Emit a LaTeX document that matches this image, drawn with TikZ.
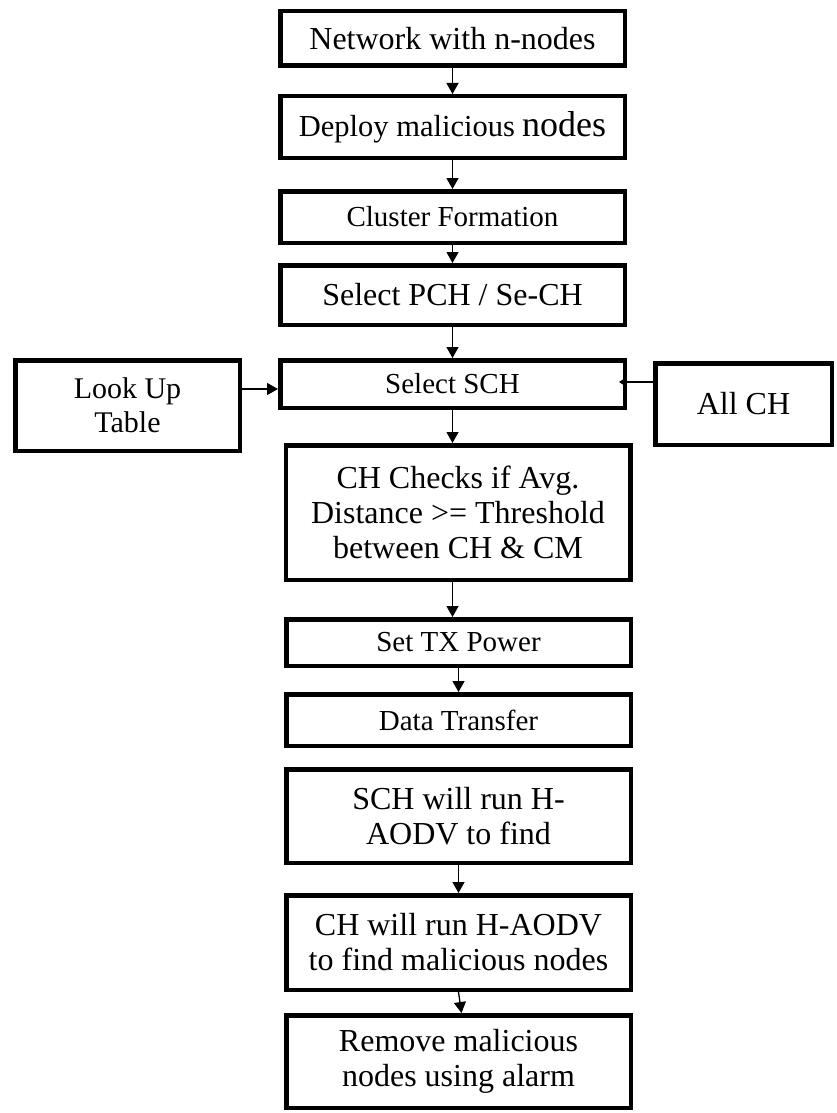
\documentclass[tikz,border=0pt]{standalone}
\usepackage{fontspec}
\setmainfont{Liberation Serif}
\usetikzlibrary{arrows.meta, positioning}

\begin{document}
\begin{tikzpicture}[x=1pt,y=1pt,>={Triangle[length=11pt,width=12pt]},
        every node/.style={font=\fontsize{29}{33}\selectfont},
        stage/.style={draw, line width=4.5pt, outer sep=2.25pt, minimum width=344.5pt, align=center, inner sep=2pt},
        big/.style={font=\fontsize{32}{35}\selectfont},
        flow/.style={line width=1.3pt}]
        % \draw[help lines] (0,0) grid (836,-1113);
      \useasboundingbox (0,0) rectangle (836,-1113);

      \node[stage, big, minimum height=54.5pt]  (net) at (452.5,-38.5) {Network with n-nodes};
      \node[stage, minimum height=61.5pt]        (deploy) [below=26pt of net] {{\fontsize{30.5}{34}\selectfont Deploy malicious} {\fontsize{36}{40}\selectfont nodes}};
      \node[stage, minimum height=51.5pt]        (cluster) [below=29pt of deploy] {Cluster Formation};
      \node[stage, big, minimum height=59.5pt]   (pch) [below=18pt of cluster] {Select PCH / Se-CH};
      \node[stage, minimum height=47.5pt]        (sch) [below=31pt of pch] {Select SCH};
      \node[stage, big, minimum height=134.5pt]  (check) [below=33pt of sch, xshift=5.5pt] {CH Checks if Avg.\\ Distance >= Threshold\\ between CH \& CM};
      \node[stage, minimum height=46.5pt]        (power) [below=35pt of check, xshift=0.5pt] {Set TX Power};
      \node[stage, minimum height=51.5pt]        (data) [below=24pt of power] {Data Transfer};
      \node[stage, big, minimum height=93.5pt]   (schrun) [below=19pt of data] {SCH will run H-\\ AODV to find};
      \node[stage, big, minimum height=94.5pt]   (chrun) [below=28pt of schrun] {CH will run H-AODV\\ to find malicious nodes};
      \node[stage, big, minimum height=92.5pt]   (remove) [below=21pt of chrun] {Remove malicious\\ nodes using alarm};

      \node[stage, font=\fontsize{30}{34}\selectfont, minimum width=224.5pt, minimum height=90.5pt] (lookup) [left=36pt of sch, yshift=-21.5pt] {Look Up\\ Table};
      \node[stage, big, minimum width=176.5pt, minimum height=81.5pt] (allch) [right=26pt of sch, yshift=-20pt] {All CH};

      \path[->, flow] (net) edge (deploy)
                (deploy) edge (cluster)
                (cluster) edge (pch)
                (pch) edge (sch)
                (sch.south) edge (sch.south |- check.north)
                (check.south -| sch.south) edge (sch.south |- power.north)
                (power) edge (data)
                (schrun.south) edge (schrun.south |- chrun.north)
                (chrun.south) edge ([xshift=3pt]chrun.south |- remove.north);
      \draw[->, flow] ([yshift=16.5pt]lookup.east) -- ([yshift=-5pt]sch.west);
      \draw[-{Triangle[length=7pt,width=9pt]}, flow] ([yshift=22pt]allch.west) -- ([yshift=2pt,xshift=-8pt]sch.east);
\end{tikzpicture}
\end{document}
